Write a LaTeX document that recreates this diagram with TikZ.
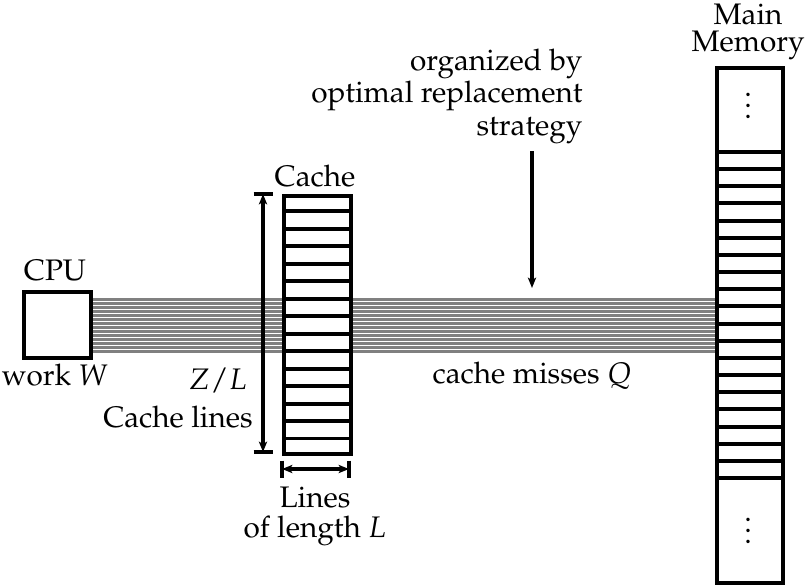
\documentclass[tikz,border=0pt]{standalone}
\usepackage[T1]{fontenc}
\usepackage{mathpazo}
\usetikzlibrary{arrows.meta,calc}
\begin{document}
\begin{tikzpicture}[x=0.3636pt,y=-0.3636pt,
  every node/.append style={font=\fontsize{10.8}{11.7}\selectfont},
  box/.style={draw,line width=1.45pt,fill=white,inner sep=0pt,anchor=north west},
  cell/.style={line width=1.45pt},
  bus/.style={draw=black!50,line width=1.05pt},
  dim/.style={line width=1.15pt},
  dimarrow/.style={line width=1.15pt,{Stealth[length=3.8pt,width=3pt,inset=1pt]}-{Stealth[length=3.8pt,width=3pt,inset=1pt]}},
  callout/.style={line width=1.15pt,-{Stealth[length=3.8pt,width=3pt,inset=1pt]}},
  lbl/.style={inner sep=0pt,anchor=base}]
\useasboundingbox (0,0) rectangle (807,584);
% boxes (named)
\node[box,minimum width=24.36pt,minimum height=24.0pt] (cpu) at (22,290) {};
\node[box,draw=none,fill=none,minimum width=24.36pt,minimum height=93.8pt] (cache) at (282,194) {};
\node[box,draw=none,fill=none,minimum width=24.0pt,minimum height=187.3pt] (mem) at (715,66) {};
% bus lines
\foreach \k in {0,...,13}{
  \path (cpu.east) ++(0,-25.5+4*\k) coordinate (b\k);
  \draw[bus] (b\k) -- (b\k -| mem.west);
}
% cache
\node[box,minimum width=24.36pt,minimum height=93.8pt] at (cache.north west) {};
\foreach \k in {1,...,14}{
  \draw[cell] ($(cache.north west)!\k/15!(cache.south west)$) -- ($(cache.north east)!\k/15!(cache.south east)$);
}
% memory
\node[box,minimum width=24.0pt,minimum height=187.3pt] at (mem.north west) {};
\foreach \k in {0,...,19}{
  \draw[cell] (715,152+17.158*\k) -- (781,152+17.158*\k);
}
\node (dtop) at (748,98) {$\vdots$};
\node (dbot) at (748,523) {$\vdots$};
% vertical dimension
\coordinate (vt) at (263,194);
\coordinate (vb) at (263,452);
\draw[dim] ($(vt)+(-9.5,0)$) -- ($(vt)+(9.5,0)$);
\draw[dim] ($(vb)+(-9.5,0)$) -- ($(vb)+(9.5,0)$);
\draw[dimarrow] (vt) -- (vb);
% horizontal dimension
\coordinate (hl) at (282,469);
\coordinate (hr) at (349,469);
\draw[dim] ($(hl)+(0,-8.5)$) -- ($(hl)+(0,8.5)$);
\draw[dim] ($(hr)+(0,-8.5)$) -- ($(hr)+(0,8.5)$);
\draw[dimarrow] (hl) -- (hr);
% callout arrow
\coordinate (ca) at (532,151);
\coordinate (cb) at (532,288);
\draw[callout] (ca) -- (cb);
% labels
\node[lbl] (tcpu) at (55,280) {CPU};
\node[lbl] (twork) at (55,385) {work $W$};
\node[lbl] (tcache) at (315,186) {Cache};
\node[lbl] (tzl) at (218,389) {$Z/L$};
\node[lbl] (tcl) at (178,427) {Cache lines};
\node[lbl] (tlines) at (315,507) {Lines};
\node[lbl] (tlen) at (315,537) {of length $L$};
\node[lbl] (tmiss) at (532,383) {cache misses $Q$};
\node[lbl] (tmain) at (748,24) {Main};
\node[lbl] (tmemory) at (748,51) {Memory};
\node[inner sep=0pt,anchor=base east,align=right] (torg) at (583,135) {organized by\\optimal replacement\\strategy};
\end{tikzpicture}
\end{document}
